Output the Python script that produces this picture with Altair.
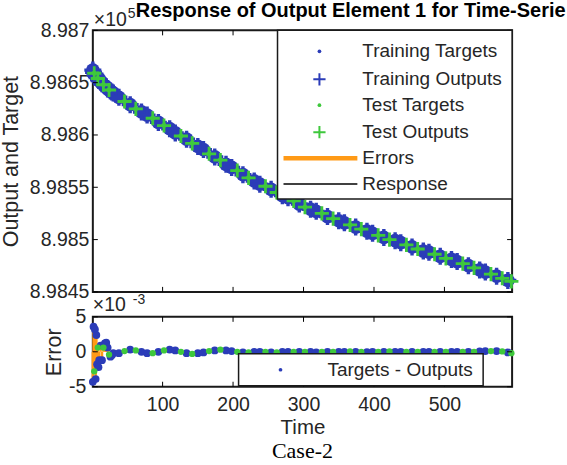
import altair as alt
import pandas as pd

# ---------------- data ----------------
TIMES = [1, 2, 3, 4, 5, 6, 7, 8, 9, 10,
         12, 14, 16, 18, 20, 22, 24, 26, 28, 30,
         38, 46, 54, 62, 70, 78, 86, 94, 102, 110,
         118, 126, 134, 142, 150, 158, 166, 174, 182, 190,
         198, 206, 214, 222, 230, 238, 246, 254, 262, 270,
         278, 286, 294, 302, 310, 318, 326, 334, 342, 350,
         358, 366, 374, 382, 390, 398, 406, 414, 422, 430,
         438, 446, 454, 462, 470, 478, 486, 494, 502, 510,
         518, 526, 534, 542, 550, 558, 566, 574, 582, 590,
         595]

# targets, in units of 1e5
TARGETS = [8.98662, 8.98660, 8.98659, 8.98658, 8.98657, 8.98656, 8.98655, 8.98654, 8.98653, 8.98652,
           8.98651, 8.98649, 8.98648, 8.98647, 8.98646, 8.98644, 8.98643, 8.98642, 8.98641, 8.98640,
           8.98636, 8.98632, 8.98629, 8.98625, 8.98622, 8.98619, 8.98616, 8.98612, 8.98609, 8.98606,
           8.98602, 8.98599, 8.98596, 8.98592, 8.98589, 8.98586, 8.98582, 8.98579, 8.98576, 8.98572,
           8.98569, 8.98566, 8.98562, 8.98559, 8.98556, 8.98553, 8.98551, 8.98548, 8.98545, 8.98542,
           8.98540, 8.98537, 8.98534, 8.98531, 8.98529, 8.98527, 8.98525, 8.98522, 8.98520, 8.98518,
           8.98516, 8.98514, 8.98512, 8.98510, 8.98508, 8.98506, 8.98504, 8.98502, 8.98500, 8.98499,
           8.98497, 8.98495, 8.98493, 8.98491, 8.98489, 8.98488, 8.98486, 8.98484, 8.98482, 8.98481,
           8.98479, 8.98477, 8.98475, 8.98473, 8.98471, 8.98469, 8.98467, 8.98465, 8.98463, 8.98461,
           8.98460]

# errors (targets - outputs), in units of 1e-3
ERRORS = [-4.3, 3.6, -2.8, 3.2, -3.9, 2.4, -1.8, 0.6, -2.2, -1.2,
          0.9, -1.2, 0.6, 1.2, 1.3, 0.6, -0.4, -0.7, -0.5, -0.2,
          -0.2, 0.1, 0.3, 0.2, 0.0, -0.2, -0.2, 0.0, 0.2, 0.3,
          0.2, 0.0, -0.2, -0.3, -0.2, -0.1, 0.1, 0.2, 0.3, 0.2,
          0.1, 0.0, -0.1, -0.1, 0.0, 0.0, 0.0, -0.1, -0.1, 0.0,
          0.0, 0.0, 0.0, 0.0, 0.0, -0.1, 0.0, 0.0, 0.0, 0.0,
          0.0, 0.05, 0.0, 0.0, -0.05, 0.0, 0.0, 0.0, 0.05, 0.0,
          0.0, 0.0, 0.0, 0.0, 0.0, 0.0, 0.0, 0.0, 0.0, 0.0,
          0.0, 0.0, 0.0, 0.0, 0.05, 0.1, 0.1, 0.1, 0.05, -0.1,
          -0.2]

TEST_TIMES = [3, 8, 16, 24, 46, 62, 86, 102, 126, 142, 166, 182, 206, 222,
              246, 262, 286, 302, 326, 342, 366, 382, 406, 422, 446, 462,
              486, 502, 526, 542, 566, 582, 595]

Y_TICKS_TOP = [8.9845, 8.985, 8.9855, 8.986, 8.9865, 8.987]
Y_TICKS_ERR = [-5, 0, 5]
X_TICKS = [100, 200, 300, 400, 500]
X_DOMAIN = [1, 596]

TITLE = "Response of Output Element 1 for Time-Series"
LEGEND_TOP = ["Training Targets", "Training Outputs", "Test Targets",
              "Test Outputs", "Errors", "Response"]
LEGEND_ERR = "Targets - Outputs"
CAPTION = "Case-2"

# ---------------- styles ----------------
BLUE = "#2b3cb8"
GREEN = "#3ec83c"
ORANGE = "#ff9a16"
INK = "#262626"
SANS = "Liberation Sans"
SERIF = "Liberation Serif"
CROSS = "M-1,0L1,0M0,-1L0,1"
W, H1, H2 = 420, 262, 70
TICK = 5

df = pd.DataFrame({"t": TIMES, "target": TARGETS, "err": ERRORS})
df["split"] = ["Test" if t in TEST_TIMES else "Training" for t in TIMES]
df["output"] = df["target"] - df["err"] * 1e-8
df["zero"] = 0.0
train = df[df["split"] == "Training"]
test = df[df["split"] == "Test"]
blank = pd.DataFrame({"k": [0]})

xs = alt.Scale(domain=X_DOMAIN, nice=False, zero=False)
ys1 = alt.Scale(domain=[Y_TICKS_TOP[0], Y_TICKS_TOP[-1]], nice=False, zero=False)
ys2 = alt.Scale(domain=[Y_TICKS_ERR[0], Y_TICKS_ERR[-1]], nice=False, zero=False)

yaxis_top = alt.Axis(
    values=Y_TICKS_TOP, labelExpr="format(datum.value, '.4~f')",
    ticks=False, domain=False, grid=False,
    labelFont=SANS, labelFontSize=19.5, labelColor=INK, labelPadding=4,
    title="Output and Target", titleFont=SANS, titleFontSize=21.5,
    titleFontWeight="normal", titleColor=INK, titleAngle=270,
    titleBaseline="alphabetic", titleAlign="center", titleX=-75, titleY=H1 / 2)

yaxis_err = alt.Axis(
    values=Y_TICKS_ERR,
    labelExpr="(datum.value < 0 ? '-' : '') + format(abs(datum.value), 'd')",
    ticks=False, domain=False, grid=False,
    labelFont=SANS, labelFontSize=19.5, labelColor=INK, labelPadding=7,
    title="Error", titleFont=SANS, titleFontSize=21.5, titleFontWeight="normal",
    titleColor=INK, titleAngle=270, titleBaseline="alphabetic",
    titleAlign="center", titleX=-32, titleY=H2 / 2)

xaxis_err = alt.Axis(
    values=X_TICKS, ticks=False, domain=False, grid=False, labelFlush=False,
    labelFont=SANS, labelFontSize=19.5, labelColor=INK, labelPadding=9,
    title="Time", titleFont=SANS, titleFontSize=20.5, titleFontWeight="normal",
    titleColor=INK, titleY=31, titleBaseline="top")


def X(field="t", axis=None):
    return alt.X(f"{field}:Q", scale=xs, axis=axis)


def txt(s, x, y, size=19, font=SANS, color=INK, weight="normal",
        align="left", baseline="middle", limit=None):
    kw = dict(text=s, font=font, fontSize=size, color=color, fontWeight=weight,
              align=align, baseline=baseline)
    if limit is not None:
        kw["limit"] = limit
        kw["ellipsis"] = "\u200b"
    return alt.Chart(blank).mark_text(**kw).encode(x=alt.value(x), y=alt.value(y))


def xtick_rules(h, xaxis):
    d = pd.DataFrame({"t": X_TICKS})
    bot = alt.Chart(d).mark_rule(color="black", strokeWidth=1).encode(
        x=X("t", xaxis), y=alt.value(h), y2=alt.value(h - TICK))
    top = alt.Chart(d).mark_rule(color="black", strokeWidth=1).encode(
        x=X("t", xaxis), y=alt.value(0), y2=alt.value(TICK))
    return [bot, top]


def ytick_rules(vals, ys, field, yaxis):
    d = pd.DataFrame({field: vals})
    left = alt.Chart(d).mark_rule(color="black", strokeWidth=1).encode(
        y=alt.Y(f"{field}:Q", scale=ys, axis=yaxis), x=alt.value(0), x2=alt.value(TICK))
    right = alt.Chart(d).mark_rule(color="black", strokeWidth=1).encode(
        y=alt.Y(f"{field}:Q", scale=ys, axis=yaxis), x=alt.value(W - TICK), x2=alt.value(W))
    return [left, right]


# ---------------- top panel ----------------
response = alt.Chart(df).mark_line(color="black", strokeWidth=1).encode(
    x=X(), y=alt.Y("output:Q", scale=ys1, axis=yaxis_top))


def marker(data, field, color, shape, size, filled, sw=1):
    return alt.Chart(data).mark_point(
        shape=shape, size=size, filled=filled, color=color,
        strokeWidth=sw, opacity=1).encode(
        x=X(), y=alt.Y(f"{field}:Q", scale=ys1, axis=yaxis_top))


tr_t = marker(train, "target", BLUE, "circle", 190, True)
tr_o = marker(train, "output", BLUE, CROSS, 290, False, 3.4)
te_t = marker(test, "target", GREEN, "circle", 25, True)
te_o = marker(test, "output", GREEN, CROSS, 200, False, 2.8)

LEG_Y = [21, 49, 75, 102, 128, 154]
leg_box = alt.Chart(blank).mark_rect(fill="white", stroke="#1a1a1a", strokeWidth=1.5).encode(
    x=alt.value(185), x2=alt.value(W), y=alt.value(0), y2=alt.value(169))

SYM_X, TXT_X = 227, 270


def leg_point(color, shape, size, filled, y, sw=1):
    return alt.Chart(blank).mark_point(shape=shape, size=size, filled=filled, color=color,
                                       strokeWidth=sw, opacity=1).encode(
        x=alt.value(SYM_X), y=alt.value(y))


def leg_line(color, sw, y):
    return alt.Chart(blank).mark_rule(color=color, strokeWidth=sw).encode(
        x=alt.value(191), x2=alt.value(265), y=alt.value(y))


legend_top = [
    leg_box,
    leg_point(BLUE, "circle", 14, True, LEG_Y[0]),
    leg_point(BLUE, CROSS, 150, False, LEG_Y[1], 2),
    leg_point(GREEN, "circle", 14, True, LEG_Y[2]),
    leg_point(GREEN, CROSS, 150, False, LEG_Y[3], 2),
    leg_line(ORANGE, 4.5, LEG_Y[4]),
    leg_line("black", 1.5, LEG_Y[5]),
] + [txt(s, TXT_X, y) for s, y in zip(LEGEND_TOP, LEG_Y)]

top_text = [
    txt("\u00d710", 1, -4, size=19.5, baseline="alphabetic"),
    txt("5", 35, -12, size=14, baseline="alphabetic"),
    txt(TITLE, 43, -13, size=20, weight="bold", color="black",
        baseline="alphabetic", limit=567 - 135),
]

top = alt.layer(
    response, tr_t, tr_o, te_t, te_o,
    *xtick_rules(H1, None), *ytick_rules(Y_TICKS_TOP, ys1, "output", yaxis_top),
    *legend_top, *top_text,
).properties(width=W, height=H1)

# ---------------- bottom panel ----------------
err_rules = alt.Chart(df).mark_rule(color=ORANGE, strokeWidth=2.5).encode(
    x=X(axis=xaxis_err), y=alt.Y("zero:Q", scale=ys2, axis=yaxis_err), y2="err:Q")
err_tr = alt.Chart(train).mark_point(shape="circle", size=60, filled=True, color=BLUE, opacity=1).encode(
    x=X(axis=xaxis_err), y=alt.Y("err:Q", scale=ys2, axis=yaxis_err))
err_te = alt.Chart(test).mark_point(shape="circle", size=40, filled=True, color=GREEN, opacity=1).encode(
    x=X(axis=xaxis_err), y=alt.Y("err:Q", scale=ys2, axis=yaxis_err))

leg2_box = alt.Chart(blank).mark_rect(fill="white", stroke="#1a1a1a", strokeWidth=1.5).encode(
    x=alt.value(146), x2=alt.value(391), y=alt.value(37), y2=alt.value(69))
leg2_dot = alt.Chart(blank).mark_point(shape="circle", size=14, filled=True, color=BLUE, opacity=1).encode(
    x=alt.value(188), y=alt.value(53))

bottom_text = [
    txt(LEGEND_ERR, 235, 53),
    txt("\u00d710", 0, -6, size=19.5, baseline="alphabetic"),
    txt("-3", 40, -13, size=14, baseline="alphabetic"),
    txt(CAPTION, W / 2, 141, size=22, font=SERIF, color="black",
        align="center", baseline="alphabetic"),
]

bottom = alt.layer(
    err_rules, err_tr, err_te,
    *xtick_rules(H2, xaxis_err), *ytick_rules(Y_TICKS_ERR, ys2, "err", yaxis_err),
    leg2_box, leg2_dot, *bottom_text,
).properties(width=W, height=H2)

chart = alt.vconcat(top, bottom, spacing=25, bounds="flush").properties(
    padding={"left": 0, "top": 0, "right": 0, "bottom": 0},
    autosize=alt.AutoSizeParams(type="pad"),
    background="white",
).configure_view(stroke="#1a1a1a", strokeWidth=2)

chart.save("out.html", embed_options={"renderer": "svg", "actions": False})
